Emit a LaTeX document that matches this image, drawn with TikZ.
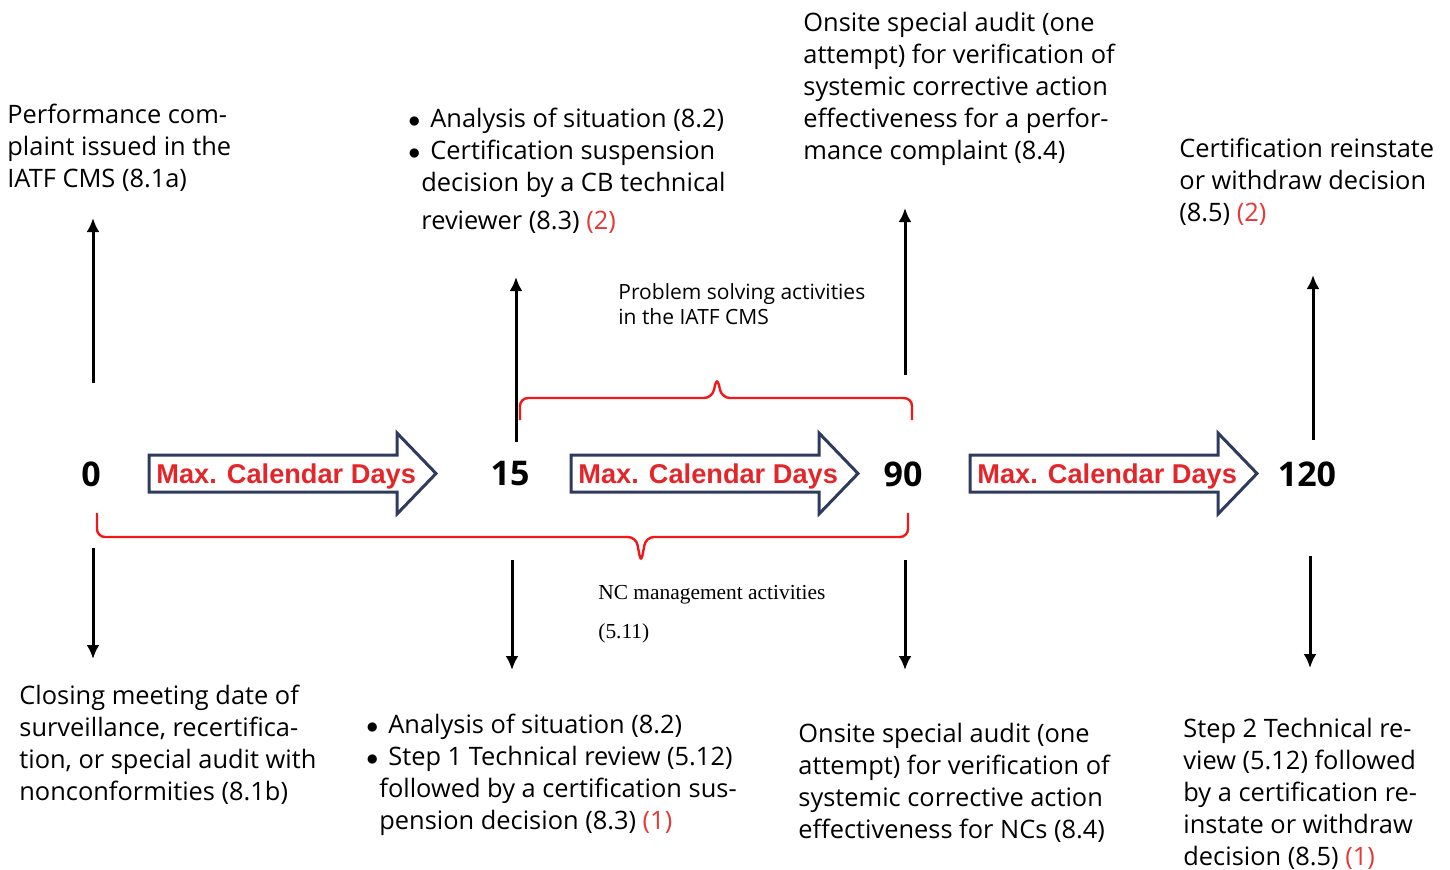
\documentclass[tikz,border=0pt]{standalone}
\usepackage{fontspec}
\setmainfont{Open Sans}
\newfontfamily\arrowfont{Liberation Sans}
\newfontfamily\notefont{Liberation Serif}
\usetikzlibrary{arrows.meta}
\definecolor{navy}{HTML}{2E3B5E}
\definecolor{daysred}{HTML}{E4262A}
\definecolor{bracered}{HTML}{F01818}
\definecolor{refred}{HTML}{E53935}
\newcommand{\refnote}[1]{\textcolor{refred}{#1}}
\newcommand{\contline}{\hspace*{6.5pt}}
\newcommand{\bitem}{\makebox[11pt][l]{$\bullet$}}

\begin{document}
\begin{tikzpicture}[x=0.5pt,y=-0.5pt,
    numnode/.style={font=\fontsize{17}{20}\selectfont\bfseries,inner sep=0pt},
    daysarrow/.style={draw=navy,line width=1.5pt,fill=white},
    daystext/.style={font=\arrowfont\fontsize{13.6}{16}\selectfont\bfseries,text=daysred,anchor=base west,inner sep=0pt},
    desc/.style={align=left,anchor=north west,inner sep=0pt,font=\fontsize{12.7}{16}\selectfont},
    smalldesc/.style={align=left,anchor=north west,inner sep=0pt,font=\fontsize{10.5}{12.5}\selectfont},
    notedesc/.style={align=left,anchor=north west,inner sep=0pt,font=\notefont\fontsize{10.7}{19.5}\selectfont},
    vline/.style={-{Latex[length=7pt,width=6.5pt]},line width=1.5pt},
    brace/.style={draw=bracered,line width=1.2pt,rounded corners=4pt}]

  \useasboundingbox (0,0) rectangle (1450,869);

  % Day marks
  \node[numnode] (d0) at (91,474) {0};
  \node[numnode] (d15) at (510,474) {15};
  \node[numnode] (d90) at (903,474) {90};
  \node[numnode] (d120) at (1307,474) {120};

  % Big arrows
  \foreach \xs/\nm in {149/a,571/b,970/c}{
    \draw[daysarrow] (\xs,455) -- ++(248,0) -- ++(0,-22) -- ++(39,40.5)
      -- ++(-39,40.5) -- ++(0,-22) -- ++(-248,0) -- cycle;
    \node[daystext] (days\nm) at (\xs+7,483) {Max. Calendar Days};
  }

  % Brackets
  \draw[brace] (520,420) -- (520,398) -- (712,398) -- (717,377) -- (722,398)
    -- (912,398) -- (912,420);
  \draw[brace] (97,513) -- (97,537) -- (636,537) -- (641,563) -- (646,537)
    -- (908,537) -- (908,513);
  \node[smalldesc] (solving) at (618,283.5) {Problem solving activities\\in the IATF CMS};
  \node[notedesc] (ncmgmt) at (598,584.5) {NC management activities\\(5.11)};

  % Vertical arrows
  \foreach \nm/\xu/\us/\ue/\xd/\ds/\de in {0/93/383/218/93/548/659,
      15/516/442/277/512/560/670, 90/905/375/208/905/560/670,
      120/1313/440/275/1310/556/668}{
    \coordinate (up\nm) at (\xu,\us);
    \coordinate (uptip\nm) at (\xu,\ue);
    \coordinate (down\nm) at (\xd,\ds);
    \coordinate (downtip\nm) at (\xd,\de);
    \draw[vline] (up\nm) -- (uptip\nm);
    \draw[vline] (down\nm) -- (downtip\nm);
  }

  % Texts above
  \node[desc] (t0) at (7,103.5) {Performance com-\\plaint issued in the\\IATF CMS (8.1a)};
  \node[desc] (t15) at (408,107.5) {\bitem Analysis of situation (8.2)\\\bitem Certification suspension\\
    \contline decision by a CB technical\\[3pt]\contline reviewer (8.3) \refnote{(2)}};
  \node[desc] (t90) at (803,11.5) {Onsite special audit (one\\attempt) for verification of\\
    systemic corrective action\\effectiveness for a perfor-\\mance complaint (8.4)};
  \node[desc] (t120) at (1179,137.5) {Certification reinstate\\or withdraw decision\\(8.5) \refnote{(2)}};

  % Texts below
  \node[desc] (b0) at (19,684.5) {Closing meeting date of\\surveillance, recertifica-\\
    tion, or special audit with\\nonconformities (8.1b)};
  \node[desc] (b15) at (366,713.5) {\bitem Analysis of situation (8.2)\\\bitem Step 1 Technical review (5.12)\\
    \contline followed by a certification sus-\\\contline pension decision (8.3) \refnote{(1)}};
  \node[desc] (b90) at (798,722.5) {Onsite special audit (one\\attempt) for verification of\\
    systemic corrective action\\effectiveness for NCs (8.4)};
  \node[desc] (b120) at (1183,717.5) {Step 2 Technical re-\\view (5.12) followed\\
    by a certification re-\\instate or withdraw\\decision (8.5) \refnote{(1)}};

\end{tikzpicture}
\end{document}
